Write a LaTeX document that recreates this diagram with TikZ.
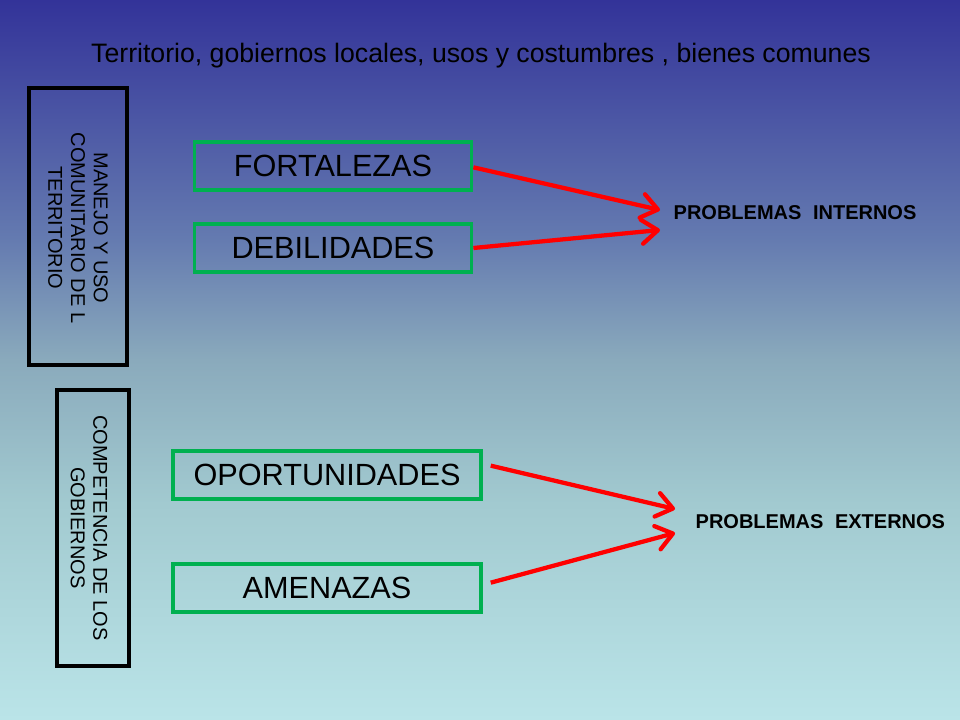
\documentclass[tikz,border=0pt]{standalone}
\usepackage{fontspec}
\setmainfont{Liberation Sans}
\usetikzlibrary{arrows.meta}

\definecolor{fondoarriba}{RGB}{51,51,153}
\definecolor{fondoazul}{RGB}{100,122,176}
\definecolor{fondomedio}{RGB}{138,170,188}
\definecolor{fondoclaro}{RGB}{162,202,208}
\definecolor{fondoabajo}{RGB}{186,228,232}
\definecolor{verdecaja}{RGB}{0,176,80}

% degradado del fondo (25bp = abajo, 75bp = arriba)
\pgfdeclareverticalshading{fondo}{100bp}{
    color(0bp)=(fondoabajo); color(25bp)=(fondoabajo);
    color(40bp)=(fondoclaro); color(50bp)=(fondomedio);
    color(58.5bp)=(fondoazul); color(75bp)=(fondoarriba);
    color(100bp)=(fondoarriba)}

\tikzset{
    cajanegra/.style={draw=black, line width=3pt},
    cajaverde/.style={draw=verdecaja, line width=2.6pt, minimum height=36pt, font=\fontsize{23}{26}\selectfont},
    flecharoja/.style={draw=red, line width=3.2pt, -{Straight Barb[round,length=12pt,width=18pt]}},
    problema/.style={anchor=west, font=\fontsize{15}{17}\selectfont\bfseries},
    textovertical/.style={rotate=-90, align=center, font=\fontsize{15}{17}\selectfont}
}

\begin{document}
\begin{tikzpicture}[x=0.75pt,y=-0.75pt]

    % fondo
    \shade[shading=fondo] (0,0) rectangle (960,720);
    \useasboundingbox (0,0) rectangle (960,720);

    % titulo
    \node (titulo) at (481,56) {\fontsize{20}{24}\selectfont Territorio, gobiernos locales, usos y costumbres , bienes comunes};

    % cajas verticales
    \draw[cajanegra] (29,88) rectangle (127,365);
    \node[textovertical] (manejo) at (78,228) {MANEJO Y USO\\COMUNITARIO DE L\\TERRITORIO};
    \draw[cajanegra] (57,390) rectangle (129,666);
    \node[textovertical] (competencia) at (89,528) {COMPETENCIA DE LOS\\GOBIERNOS};

    % cajas verdes
    \node[cajaverde, minimum width=208pt] (fortalezas) at (333,166) {FORTALEZAS};
    \node[cajaverde, minimum width=208pt] (debilidades) at (333,248) {DEBILIDADES};
    \node[cajaverde, minimum width=231pt] (oportunidades) at (327,475) {OPORTUNIDADES};
    \node[cajaverde, minimum width=231pt] (amenazas) at (327,588) {AMENAZAS};

    % problemas
    \node[problema] (internos) at (669,213) {PROBLEMAS\hspace{0.3em} INTERNOS};
    \node[problema] (externos) at (691,522) {PROBLEMAS\hspace{0.3em} EXTERNOS};

    \coordinate (puntaA) at (660,210);
    \coordinate (puntaB) at (660,230);
    \coordinate (puntaC) at (675,509);
    \coordinate (puntaD) at (675,533);

    % flechas
    \draw[flecharoja] ([yshift=-1pt]fortalezas.east) -- (puntaA);
    \draw[flecharoja] (debilidades.east) -- (puntaB);
    \draw[flecharoja] ([xshift=6pt,yshift=7pt]oportunidades.east) -- (puntaC);
    \draw[flecharoja] ([xshift=6pt,yshift=4pt]amenazas.east) -- (puntaD);

\end{tikzpicture}
\end{document}
